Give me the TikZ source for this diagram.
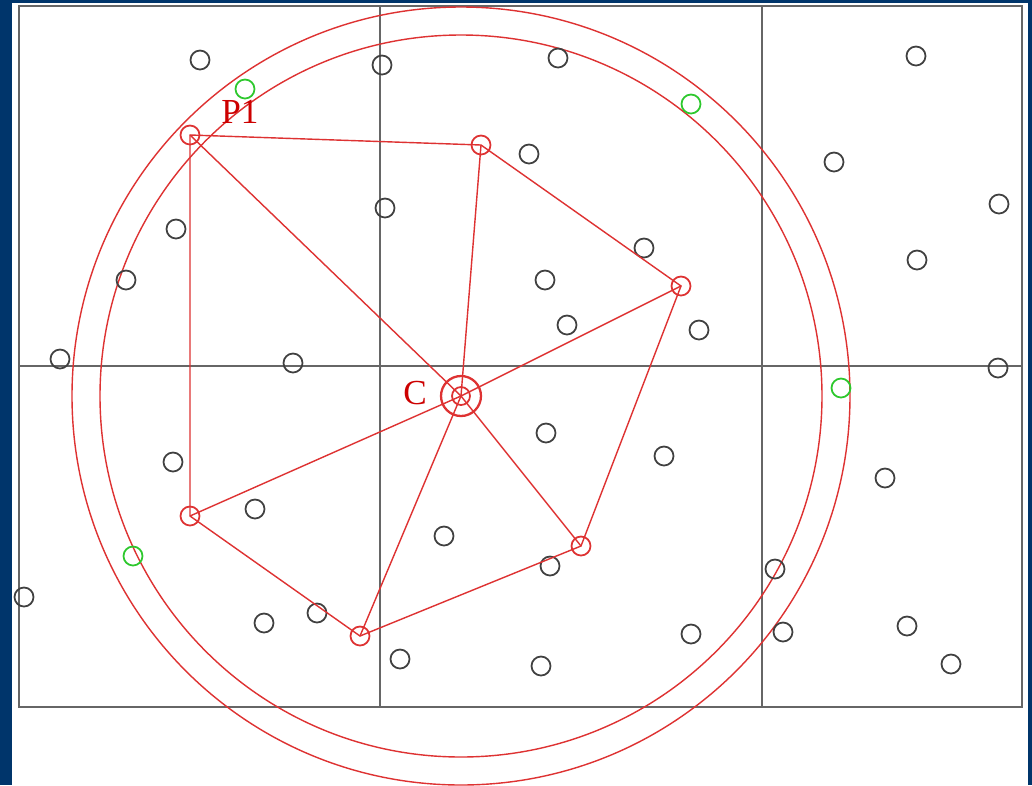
\documentclass[tikz,border=0pt]{standalone}
\usepackage{fontspec}
\setmainfont{Liberation Serif}
\definecolor{navy}{RGB}{0,53,107}
\definecolor{hullred}{RGB}{222,50,50}
\definecolor{labred}{RGB}{205,0,0}
\definecolor{fargreen}{RGB}{45,200,45}
\tikzset{
  dot/.style = {circle, draw = black!75, line width = 1pt, inner sep = 0pt,
                minimum size = .38cm},
  hull/.style = {dot, draw = hullred},
  far/.style = {dot, draw = fargreen},
  edge/.style = {hullred, line width = .8pt},
  grid/.style = {black!60, line width = 1.1pt},
  lab/.style = {labred, font = \fontsize{20}{22}\selectfont}
}
\begin{document}
\begin{tikzpicture}[x = 0.02cm, y = -0.02cm]
  \fill [navy] (0,0) rectangle (1032,785);
  \fill [white] (12,3) rectangle (1028,785);
  % cells
  \draw [grid] (19,6) rectangle (1022,707);
  \draw [grid] (380,6) -- (380,707);
  \draw [grid] (762,6) -- (762,707);
  \draw [grid] (19,366) -- (1022,366);
  % search circles
  \draw [edge] (461,396) circle (389);
  \draw [edge] (461,396) circle (361);
  % other points
  \foreach \x/\y in {200/60, 382/65, 558/58, 916/56, 529/154, 834/162,
                     999/204, 385/208, 176/229, 644/248, 917/260, 126/280,
                     545/280, 567/325, 699/330, 60/359, 293/363, 998/368,
                     546/433, 664/456, 173/462, 885/478, 255/509, 444/536,
                     550/566, 775/569, 24/597, 264/623, 317/613, 691/634,
                     783/632, 907/626, 951/664, 400/659, 541/666}
    \node [dot] at (\x,\y) {};
  \node [far] (g1) at (245,89) {};
  \node [far] (g2) at (691,104) {};
  \node [far] (g3) at (841,388) {};
  \node [far] (g4) at (133,556) {};
  % hull
  \node [hull, line width = 1.3pt, minimum size = .8cm] (c) at (461,396) {};
  \node [hull, minimum size = .36cm] (c0) at (461,396) {};
  \node [hull] (p1) at (190,135) {};
  \node [hull] (p2) at (481,145) {};
  \node [hull] (p3) at (681,286) {};
  \node [hull] (p4) at (581,546) {};
  \node [hull] (p5) at (360,636) {};
  \node [hull] (p6) at (190,516) {};
  \draw [edge] (p1.center) -- (p2.center) -- (p3.center) -- (p4.center)
    -- (p5.center) -- (p6.center) -- cycle;
  \foreach \p in {p1,p2,p3,p4,p5,p6}
    \draw [edge] (c.center) -- (\p.center);
  \node [lab] (l1) at (240,112) {P1};
  \node [lab] (lc) at (415,393) {C};
\end{tikzpicture}
\end{document}
